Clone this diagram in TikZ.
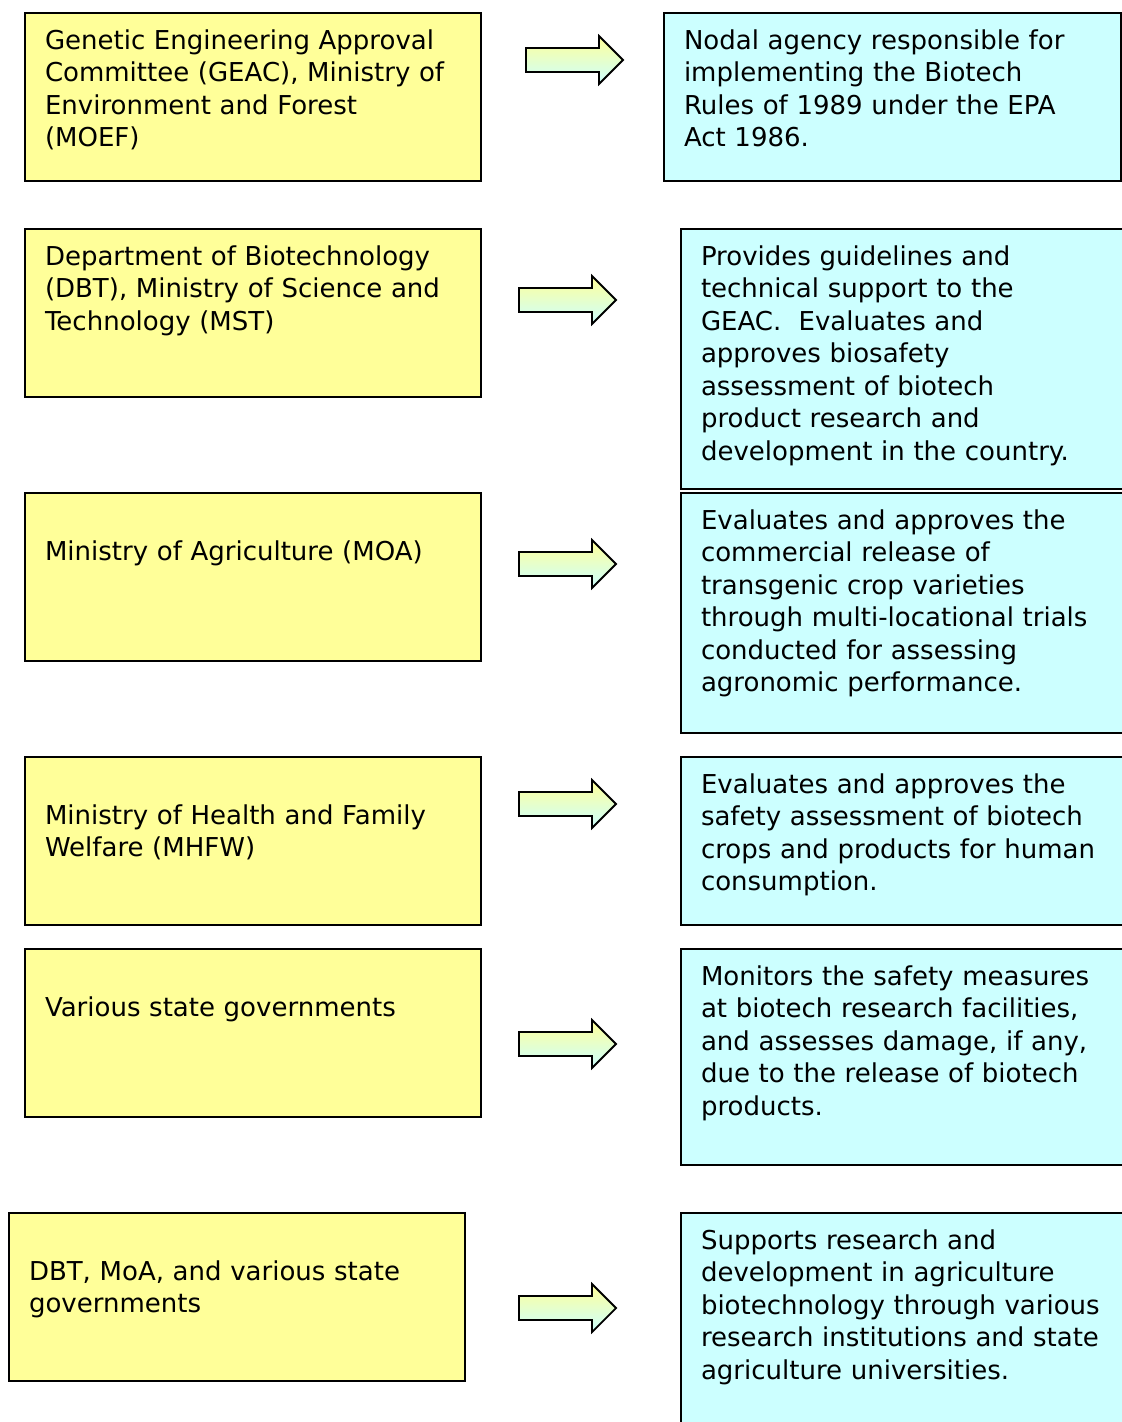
\documentclass[tikz,border=0pt]{standalone}
\usepackage{fontspec}
\setmainfont{DejaVu Sans}
\usepackage{xcolor}
\usetikzlibrary{positioning,calc}
\definecolor{govyellow}{HTML}{FFFF99}
\definecolor{rolecyan}{HTML}{CCFFFF}

\begin{document}
\begin{tikzpicture}[x=1pt,y=-1pt,
  box/.style={rectangle,draw=black,line width=2pt,anchor=north west,align=left,
    inner xsep=20pt,inner ysep=0pt,text height=36pt,font=\fontsize{26}{32.5}\selectfont},
  gov/.style={box,fill=govyellow,text width=416pt},
  role/.style={box,fill=rolecyan,text width=420pt},
  blockarrow/.pic={\draw[line width=1.8pt,line join=miter,top color=govyellow,bottom color=rolecyan]
    (0,-12) -- (73,-12) -- (73,-24) -- (97,0) -- (73,24) -- (73,12) -- (0,12) -- cycle;}]
  \clip (0,0) rectangle (1122,1422);
  \fill[white] (0,0) rectangle (1122,1422);
  \node[gov,text depth=132pt] (geac) at (24,12) {Genetic Engineering Approval\\Committee (GEAC), Ministry of\\Environment and Forest\\(MOEF)};
  \node[role,text width=417pt,text depth=132pt] (geacrole) at (663,12) {Nodal agency responsible for\\implementing the Biotech\\Rules of 1989 under the EPA\\Act 1986.};
  \node[gov,text depth=132pt] (dbt) at (24,228) {Department of Biotechnology\\(DBT), Ministry of Science and\\Technology (MST)};
  \node[role,text depth=224pt] (dbtrole) at (680,228) {Provides guidelines and\\technical support to the\\GEAC.~ Evaluates and\\approves biosafety\\assessment of biotech\\product research and\\development in the country.};
  \node[gov,text height=67pt,text depth=101pt] (moa) at (24,492) {Ministry of Agriculture (MOA)};
  \node[role,text depth=204pt] (moarole) at (680,492) {Evaluates and approves the\\commercial release of\\transgenic crop varieties\\through multi-locational trials\\conducted for assessing\\agronomic performance.};
  \node[gov,text height=67pt,text depth=101pt] (mhfw) at (24,756) {Ministry of Health and Family\\Welfare (MHFW)};
  \node[role,text depth=132pt] (mhfwrole) at (680,756) {Evaluates and approves the\\safety assessment of biotech\\crops and products for human\\consumption.};
  \node[gov,text height=67pt,text depth=101pt] (states) at (24,948) {Various state governments};
  \node[role,text depth=180pt] (statesrole) at (680,948) {Monitors the safety measures\\at biotech research facilities,\\and assesses damage, if any,\\due to the release of biotech\\products.};
  \node[gov,text height=67pt,text depth=101pt] (joint) at (8,1212) {DBT, MoA, and various state\\governments};
  \node[role,text depth=192pt] (jointrole) at (680,1212) {Supports research and\\development in agriculture\\biotechnology through various\\research institutions and state\\agriculture universities.};
  \pic at (526,60) {blockarrow};
  \foreach \y in {300,564,804,1044,1308}
    \pic at (519,\y) {blockarrow};
\end{tikzpicture}
\end{document}
